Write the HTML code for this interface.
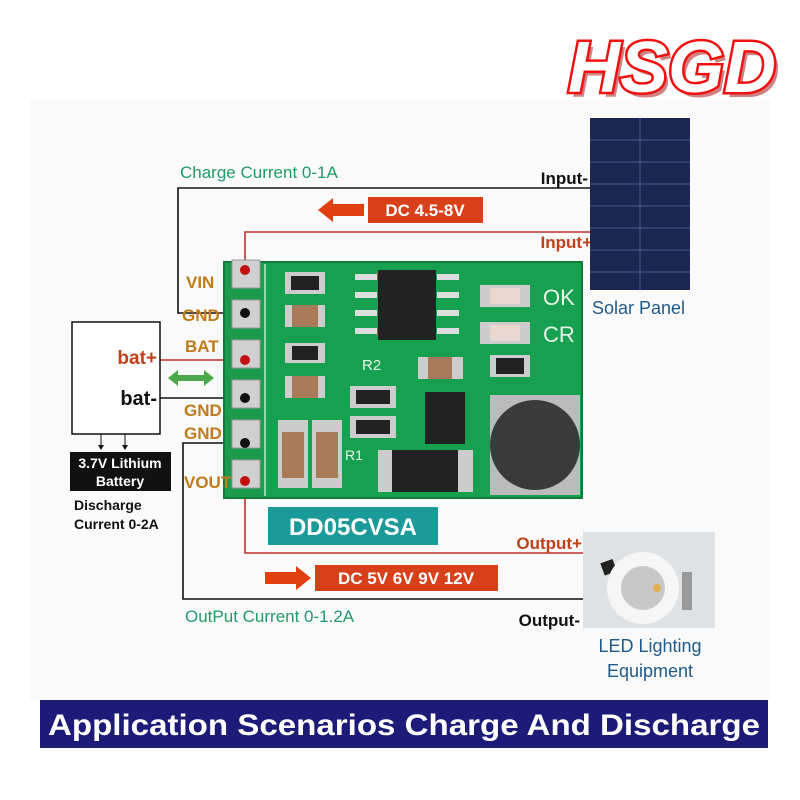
<!DOCTYPE html>
<html><head><meta charset="utf-8"><style>
html,body{margin:0;padding:0;background:#fff;}
svg{display:block;font-family:"Liberation Sans","DejaVu Sans",sans-serif;}
</style></head><body>
<svg width="800" height="800" viewBox="0 0 800 800" xmlns="http://www.w3.org/2000/svg">
<rect width="800" height="800" fill="#fff"/>
<rect x="30" y="100" width="740" height="600" fill="#fafafa"/>
<!-- logo -->
<text x="676" y="97" text-anchor="middle" font-size="72" font-weight="bold" font-style="italic" fill="#b03030" opacity="0.6">HSGD</text>
<text x="672" y="92" text-anchor="middle" font-size="72" font-weight="bold" font-style="italic" fill="#fff" stroke="#f01010" stroke-width="5" paint-order="stroke">HSGD</text>

<!-- wires -->
<g fill="none" stroke-width="1.6">
<polyline points="590,188 178,188 178,313 245,313" stroke="#111"/>
<polyline points="590,232 245,232 245,270" stroke="#c0302a"/>
<polyline points="160,360 245,360" stroke="#c0302a"/>
<polyline points="160,398 245,398" stroke="#111"/>
<polyline points="245,443 183,443 183,599 583,599" stroke="#111"/>
<polyline points="245,481 245,553 583,553" stroke="#c0302a"/>
</g>
<text x="180" y="178" font-size="17" fill="#1f9a6a">Charge Current 0-1A</text>
<text x="588" y="184" text-anchor="end" font-size="17" font-weight="bold" fill="#111">Input-</text>
<text x="592" y="248" text-anchor="end" font-size="17" font-weight="bold" fill="#c0401a">Input+</text>
<polygon points="318,210 333,198 333,204 364,204 364,216 333,216 333,222" fill="#e04010"/>
<rect x="368" y="197" width="115" height="26" fill="#d8401a"/>
<text x="425" y="216" text-anchor="middle" font-size="17" font-weight="bold" fill="#fff">DC 4.5-8V</text>

<!-- solar panel -->
<rect x="590" y="118" width="100" height="172" fill="#1b2750"/>
<g stroke="#4a5a8a" stroke-width="1">
<line x1="640" y1="118" x2="640" y2="290"/>
<line x1="590" y1="140" x2="690" y2="140"/><line x1="590" y1="162" x2="690" y2="162"/>
<line x1="590" y1="184" x2="690" y2="184"/><line x1="590" y1="206" x2="690" y2="206"/>
<line x1="590" y1="228" x2="690" y2="228"/><line x1="590" y1="250" x2="690" y2="250"/>
<line x1="590" y1="272" x2="690" y2="272"/>
</g>
<text x="592" y="314" font-size="18" fill="#1f5a8a">Solar Panel</text>

<!-- board -->
<rect x="224" y="262" width="358" height="236" fill="#17a050" stroke="#0f7a3a" stroke-width="2"/>
<rect x="226" y="264" width="36" height="232" fill="#1b9a4a"/>
<line x1="265" y1="264" x2="265" y2="496" stroke="#bfe8c8" stroke-width="1.5"/>
<g fill="#d0d0d0" stroke="#999">
<rect x="232" y="260" width="28" height="28"/><rect x="232" y="300" width="28" height="28"/>
<rect x="232" y="340" width="28" height="28"/><rect x="232" y="380" width="28" height="28"/>
<rect x="232" y="420" width="28" height="28"/><rect x="232" y="460" width="28" height="28"/>
</g>
<g><circle cx="245" cy="270" r="5" fill="#c01010"/><circle cx="245" cy="313" r="5" fill="#111"/>
<circle cx="245" cy="360" r="5" fill="#c01010"/><circle cx="245" cy="398" r="5" fill="#111"/>
<circle cx="245" cy="443" r="5" fill="#111"/><circle cx="245" cy="481" r="5" fill="#c01010"/></g>
<rect x="378" y="270" width="58" height="70" fill="#222"/>
<g fill="#ddd"><rect x="355" y="274" width="22" height="6"/><rect x="355" y="292" width="22" height="6"/><rect x="355" y="310" width="22" height="6"/><rect x="355" y="328" width="22" height="6"/>
<rect x="437" y="274" width="22" height="6"/><rect x="437" y="292" width="22" height="6"/><rect x="437" y="310" width="22" height="6"/><rect x="437" y="328" width="22" height="6"/></g>
<rect x="285" y="272" width="40" height="22" fill="#ccc"/><rect x="291" y="276" width="28" height="14" fill="#222"/>
<rect x="285" y="305" width="40" height="22" fill="#ccc"/><rect x="292" y="305" width="26" height="22" fill="#a87a5a"/>
<rect x="285" y="343" width="40" height="20" fill="#ccc"/><rect x="292" y="346" width="26" height="14" fill="#222"/>
<rect x="285" y="376" width="40" height="22" fill="#ccc"/><rect x="292" y="376" width="26" height="22" fill="#a87a5a"/>
<rect x="480" y="285" width="50" height="22" fill="#ccc"/><rect x="490" y="288" width="30" height="16" fill="#e8d8d0"/>
<rect x="480" y="322" width="50" height="22" fill="#ccc"/><rect x="490" y="325" width="30" height="16" fill="#e8d8d0"/>
<text x="543" y="305" font-size="22" fill="#e8f5e8">OK</text><text x="543" y="342" font-size="22" fill="#e8f5e8">CR</text>
<rect x="490" y="355" width="40" height="22" fill="#ccc"/><rect x="496" y="358" width="28" height="16" fill="#222"/>
<rect x="418" y="357" width="45" height="22" fill="#ccc"/><rect x="428" y="357" width="24" height="22" fill="#a87a5a"/>
<text x="362" y="370" font-size="15" fill="#e8f5e8">R2</text>
<rect x="350" y="386" width="46" height="22" fill="#ccc"/><rect x="356" y="390" width="34" height="14" fill="#222"/>
<rect x="350" y="416" width="46" height="22" fill="#ccc"/><rect x="356" y="420" width="34" height="14" fill="#222"/>
<text x="345" y="460" font-size="14" fill="#e8f5e8">R1</text>
<rect x="425" y="392" width="40" height="52" fill="#222"/>
<rect x="378" y="450" width="95" height="42" fill="#ccc"/><rect x="392" y="450" width="66" height="42" fill="#222"/>
<rect x="490" y="395" width="90" height="100" fill="#bbb"/>
<circle cx="535" cy="445" r="45" fill="#3a3a3a"/>
<rect x="278" y="420" width="30" height="68" fill="#ccc"/><rect x="282" y="432" width="22" height="46" fill="#a87a5a"/>
<rect x="312" y="420" width="30" height="68" fill="#ccc"/><rect x="316" y="432" width="22" height="46" fill="#a87a5a"/>

<g font-size="17" font-weight="bold" fill="#c07a18">
<text x="186" y="288">VIN</text><text x="182" y="321">GND</text><text x="185" y="352">BAT</text>
<text x="184" y="416">GND</text><text x="184" y="439">GND</text><text x="184" y="488">VOUT</text></g>

<rect x="72" y="322" width="88" height="112" fill="#fff" stroke="#111" stroke-width="1.5"/>
<text x="157" y="364" text-anchor="end" font-size="19" font-weight="bold" fill="#c0401a">bat+</text>
<text x="157" y="405" text-anchor="end" font-size="20" font-weight="bold" fill="#111">bat-</text>
<polygon points="168,378 178,370 178,375 204,375 204,370 214,378 204,386 204,381 178,381 178,386" fill="#4aa84a"/>
<g stroke="#111" stroke-width="1"><line x1="101" y1="434" x2="101" y2="448"/><line x1="125" y1="434" x2="125" y2="448"/></g>
<polygon points="98,445 104,445 101,450" fill="#111"/><polygon points="122,445 128,445 125,450" fill="#111"/>
<rect x="70" y="452" width="101" height="39" fill="#111"/>
<text x="120" y="468" text-anchor="middle" font-size="14" font-weight="bold" fill="#fff">3.7V Lithium</text>
<text x="120" y="486" text-anchor="middle" font-size="14" font-weight="bold" fill="#fff">Battery</text>
<text x="74" y="510" font-size="14" font-weight="bold" fill="#111">Discharge</text>
<text x="74" y="529" font-size="14" font-weight="bold" fill="#111">Current 0-2A</text>

<rect x="268" y="507" width="170" height="38" fill="#1a9a98"/>
<text x="353" y="535" text-anchor="middle" font-size="24" font-weight="bold" fill="#fff">DD05CVSA</text>

<text x="582" y="549" text-anchor="end" font-size="17" font-weight="bold" fill="#c0401a">Output+</text>
<polygon points="265,572 296,572 296,566 311,578 296,590 296,584 265,584" fill="#e04010"/>
<rect x="315" y="565" width="183" height="26" fill="#d8401a"/>
<text x="406" y="584" text-anchor="middle" font-size="17" font-weight="bold" fill="#fff">DC 5V 6V 9V 12V</text>
<text x="185" y="622" font-size="17" fill="#1f9a6a">OutPut Current 0-1.2A</text>
<text x="580" y="626" text-anchor="end" font-size="17" font-weight="bold" fill="#111">Output-</text>

<rect x="583" y="532" width="132" height="96" fill="#dfe2e4"/>
<rect x="602" y="561" width="13" height="13" fill="#222" transform="rotate(-20 608 567)"/>
<rect x="682" y="572" width="10" height="38" fill="#999"/>
<circle cx="643" cy="588" r="36" fill="#f6f6f6"/>
<circle cx="643" cy="588" r="22" fill="#c8c8c8"/>
<circle cx="657" cy="588" r="4" fill="#e0b050"/>
<text x="650" y="652" text-anchor="middle" font-size="18" fill="#1f5a8a">LED Lighting</text>
<text x="650" y="677" text-anchor="middle" font-size="18" fill="#1f5a8a">Equipment</text>

<rect x="40" y="700" width="728" height="48" fill="#1c1c78"/>
<text x="404" y="735" text-anchor="middle" font-size="30" font-weight="bold" fill="#fff" textLength="712" lengthAdjust="spacingAndGlyphs">Application Scenarios Charge And Discharge</text>
</svg>
</body></html>
